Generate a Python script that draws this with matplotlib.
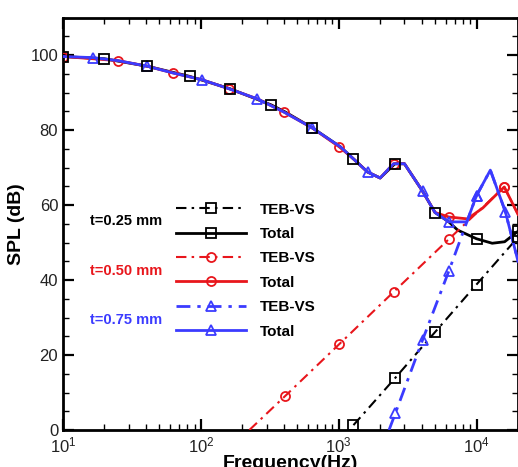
import matplotlib
matplotlib.use("Agg")
import matplotlib.pyplot as plt
from matplotlib.lines import Line2D
from matplotlib.ticker import MultipleLocator, LogLocator, NullFormatter

plt.rcParams['font.family'] = ['Liberation Sans', 'DejaVu Sans']
plt.rcParams['mathtext.default'] = 'regular'

# t = 0.25 mm
tot25_f = [10, 20, 41, 83, 163, 324, 410, 643, 1030, 1280, 1620, 2000, 2560, 3000, 4060, 5000,
           6300, 7300, 10000, 13000, 16000, 20000]
tot25_spl = [99.6, 99.0, 97.0, 94.3, 91.0, 86.7, 84.8, 80.6, 75.5, 72.3, 68.8, 67.2, 71.0, 71.0,
             63.7, 58.0, 55.5, 53.3, 51.0, 49.8, 50.2, 53.0]
tot25_marks = [0, 1, 2, 3, 4, 5, 7, 9, 12, 15, 18, 21]
teb25_f = [1280, 2560, 5000, 10000, 20000]
teb25_spl = [1.3, 13.8, 26.1, 38.8, 51.4]
teb25_marks = [0, 1, 2, 3, 4]

# t = 0.50 mm
tot50_f = [10, 25, 41, 63, 102, 160, 257, 400, 640, 1010, 1280, 1620, 2000, 2500, 3000, 4060,
           5000, 6300, 8600, 11100, 14300, 15900, 20000]
tot50_spl = [99.6, 98.5, 97.0, 95.2, 93.4, 91.0, 88.3, 84.8, 80.6, 75.5, 72.3, 68.8, 67.2, 71.0,
             71.0, 63.7, 58.0, 56.8, 56.3, 59.2, 63.2, 64.8, 57.5]
tot50_marks = [0, 1, 3, 5, 7, 9, 13, 17, 21]
teb50_f = [225, 410, 1010, 2500, 6300, 15900, 20000]
teb50_spl = [0.0, 9.1, 22.9, 36.8, 50.9, 64.8, 57.5]
teb50_marks = [1, 2, 3, 4, 5]

# t = 0.75 mm
tot75_f = [10, 16.5, 25, 41, 63, 102, 160, 257, 400, 640, 1030, 1280, 1620, 2000, 2500, 3000,
           4060, 5000, 6300, 8500, 10000, 12600, 16200, 20000]
tot75_spl = [99.6, 99.3, 98.5, 97.0, 95.2, 93.4, 91.0, 88.3, 84.8, 80.6, 75.5, 72.3, 68.8, 67.2,
             71.0, 71.0, 63.7, 58.0, 55.5, 55.5, 62.5, 69.3, 58.2, 45.0]
tot75_marks = [1, 3, 5, 7, 9, 12, 16, 18, 20]
teb75_f = [2320, 2580, 4060, 6300, 10000, 12600, 16200, 20000]
teb75_spl = [0.0, 4.5, 24.0, 42.4, 62.5, 69.3, 58.2, 45.0]
teb75_marks = [1, 2, 3, 4, 6]

red = '#e8161c'
blue = '#3b3bff'
dashdot = (0, (5, 2.5, 1.2, 2.5))

fig = plt.figure(figsize=(5.18, 4.67), dpi=100)
ax = fig.add_axes([63 / 518, 1 - 430 / 467, 455 / 518, 412.5 / 467])

series = [
    (teb25_f, teb25_spl, teb25_marks, 'black', dashdot, 's', 'TEB-VS'),
    (tot25_f, tot25_spl, tot25_marks, 'black', '-', 's', 'Total'),
    (teb50_f, teb50_spl, teb50_marks, red, dashdot, 'o', 'TEB-VS'),
    (tot50_f, tot50_spl, tot50_marks, red, '-', 'o', 'Total'),
    (teb75_f, teb75_spl, teb75_marks, blue, dashdot, '^', 'TEB-VS'),
    (tot75_f, tot75_spl, tot75_marks, blue, '-', '^', 'Total'),
]

# blue line covers the red symbols, black squares sit on top of everything
line_z = {'black': 2, red: 3, blue: 4}
mark_z = {'black': 7, red: 3.5, blue: 6}
handles = []
for f, spl, marks, c, ls, m, lab in series:
    lw = 2.0 if (ls == '-' or c == blue) else 1.5
    ax.plot(f, spl, color=c, ls=ls, lw=lw, zorder=line_z[c])
    ax.plot([f[i] for i in marks], [spl[i] for i in marks], ls='none', marker=m,
            ms=6.5, mfc='none', mec=c, mew=1.3, zorder=mark_z[c])
    handles.append(Line2D([], [], color=c, ls=ls, lw=lw, marker=m, ms=6.5,
                          mfc='none', mec=c, mew=1.3))

ax.set_xscale('log')
ax.set_xlim(10, 2e4)
ax.set_ylim(0, 110)

ax.xaxis.set_major_locator(LogLocator(base=10, numticks=10))
ax.xaxis.set_minor_locator(LogLocator(base=10, subs=range(2, 10), numticks=10))
ax.xaxis.set_minor_formatter(NullFormatter())
ax.yaxis.set_major_locator(MultipleLocator(20))
ax.yaxis.set_minor_locator(MultipleLocator(5))
ax.tick_params(which='both', direction='in', top=True, right=True, labelsize=12,
               labelcolor='#222222')
ax.tick_params(which='major', length=8, width=1.6)
ax.tick_params(which='minor', length=4, width=1.0)
ax.tick_params(axis='x', pad=4)
for sp in ax.spines.values():
    sp.set_linewidth(2)

ax.set_xlabel('Frequency(Hz)', fontsize=14, fontweight='bold', labelpad=0)
ax.set_ylabel('SPL (dB)', fontsize=14, fontweight='bold', labelpad=4)

leg = ax.legend(handles, [s[6] for s in series], loc='upper left',
                bbox_to_anchor=(0.235, 0.566), frameon=False,
                prop={'weight': 'bold', 'size': 11}, handlelength=4.6,
                handletextpad=0.9, labelspacing=0.68, numpoints=1, borderaxespad=0)
leg.set_zorder(10)

ax.text(0.059, 0.507, 't=0.25 mm', transform=ax.transAxes, fontsize=10.5,
        fontweight='bold', color='black', va='center')
ax.text(0.059, 0.385, 't=0.50 mm', transform=ax.transAxes, fontsize=10.5,
        fontweight='bold', color=red, va='center')
ax.text(0.059, 0.267, 't=0.75 mm', transform=ax.transAxes, fontsize=10.5,
        fontweight='bold', color=blue, va='center')

fig.savefig('out.png', dpi=100)
